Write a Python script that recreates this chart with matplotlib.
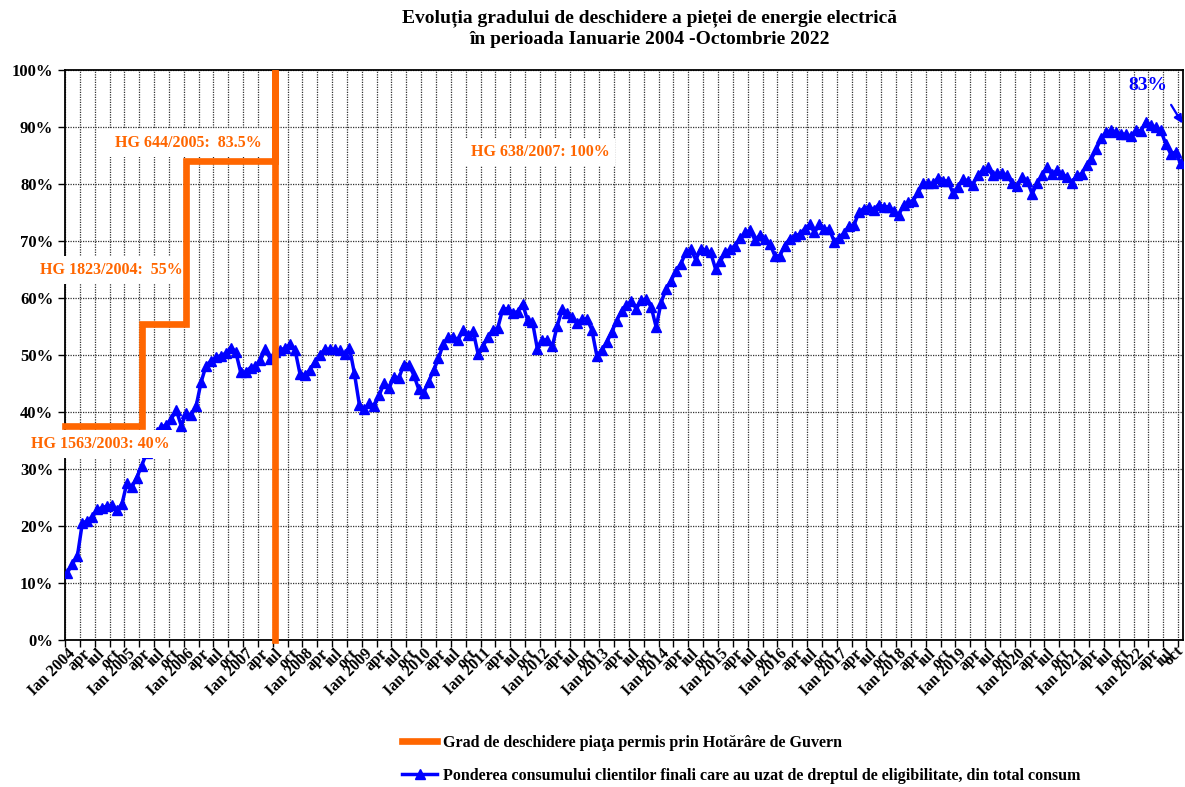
import matplotlib.pyplot as plt
import numpy as np
from matplotlib.lines import Line2D
from matplotlib.transforms import ScaledTranslation

plt.rcParams['font.family'] = ['Liberation Serif', 'DejaVu Serif']
plt.rcParams['font.weight'] = 'bold'

START_YEAR = 2004
MONTH_NAMES = {0: "Ian", 3: "apr", 6: "iul", 9: "oct"}

# Ponderea consumului clientilor eligibili in total consum (%), lunar, Ian 2004 - oct 2022
share = [
    11.8, 13.4, 14.7, 20.5, 20.9, 21.6, 22.9, 23.2, 23.5, 23.7, 22.8, 23.8,   # 2004
    27.5, 26.8, 28.5, 30.6, 32.8, 35.0, 36.5, 37.3, 37.8, 38.8, 40.3, 37.6,   # 2005
    39.8, 39.4, 41.0, 45.2, 48.1, 49.0, 49.6, 49.9, 50.3, 51.3, 50.6, 47.0,   # 2006
    47.0, 47.8, 48.1, 49.1, 51.0, 49.3, 50.5, 50.9, 51.2, 51.9, 50.9, 46.7,   # 2007
    46.5, 47.4, 48.8, 50.0, 51.0, 51.0, 51.0, 50.8, 50.1, 51.3, 46.8, 41.3,   # 2008
    40.5, 41.5, 41.1, 42.9, 45.1, 44.2, 46.2, 46.0, 48.3, 48.3, 46.5, 44.0,   # 2009
    43.4, 45.3, 47.3, 49.4, 52.0, 53.1, 53.1, 52.7, 54.4, 53.5, 54.2, 50.2,   # 2010
    51.5, 53.2, 54.4, 54.8, 58.1, 58.1, 57.4, 57.6, 59.0, 56.1, 55.8, 51.0,   # 2011
    52.6, 52.7, 51.5, 55.1, 58.0, 57.4, 56.6, 55.6, 56.3, 56.4, 54.4, 49.9,   # 2012
    50.8, 52.2, 54.0, 56.0, 57.7, 58.8, 59.4, 58.1, 59.6, 59.8, 58.4, 54.9,   # 2013
    59.2, 61.6, 63.0, 64.8, 66.0, 68.0, 68.6, 66.7, 68.6, 68.4, 68.0, 65.1,   # 2014
    66.5, 68.0, 68.6, 69.2, 70.5, 71.5, 71.9, 70.1, 71.1, 70.4, 69.5, 67.4,   # 2015
    67.4, 69.2, 70.4, 70.9, 71.2, 72.1, 72.9, 71.5, 72.9, 72.1, 72.1, 69.9,   # 2016
    70.6, 71.4, 72.7, 72.8, 75.1, 75.7, 76.0, 75.5, 76.4, 76.0, 76.0, 75.3,   # 2017
    74.5, 76.3, 76.8, 77.1, 78.6, 80.2, 80.1, 80.1, 81.1, 80.6, 80.5, 78.4,   # 2018
    79.5, 80.8, 80.6, 79.9, 81.5, 82.4, 82.9, 81.5, 81.9, 81.9, 81.5, 80.1,   # 2019
    79.6, 81.2, 80.5, 78.3, 80.1, 81.5, 82.9, 81.7, 82.4, 81.7, 81.3, 80.2,   # 2020
    81.5, 81.8, 83.3, 84.4, 86.2, 88.1, 89.1, 89.4, 89.1, 88.8, 88.7, 88.4,   # 2021
    89.4, 89.3, 90.9, 90.3, 90.0, 89.4, 87.1, 85.3, 85.6, 83.6,               # 2022
]

# Grad de deschidere permis prin HG: luna de la care se aplica si nivelul trasat (%)
hg_month = [0, 15, 24, 42]
hg_level = [37.5, 55.5, 84.0, 100.0]
hg_text = ["HG 1563/2003: 40%", "HG 1823/2004:  55%",
           "HG 644/2005:  83.5%", "HG 638/2007: 100%"]

ORANGE = '#FF6600'
BLUE = '#0000FF'

n = len(share)
months = np.arange(n)

# tick labels every 3 months
label_pos = list(range(0, n, 3))
label_txt = []
for m in label_pos:
    k = m % 12
    if k == 0:
        label_txt.append(f"{MONTH_NAMES[k]} {START_YEAR + m // 12}")
    else:
        label_txt.append(MONTH_NAMES[k])

fig = plt.figure(figsize=(11.85, 7.87), dpi=100)
ax = fig.add_axes([65 / 1185, 1 - 640 / 787, (1183 - 65) / 1185, 570 / 787])

# step line of the HG limits
sx = [-0.5]
sy = [hg_level[0]]
for i in range(1, len(hg_month)):
    if i < len(hg_month) - 1:
        sx += [hg_month[i], hg_month[i]]
        sy += [hg_level[i - 1], hg_level[i]]
    else:
        sx += [hg_month[i], hg_month[i], hg_month[i]]
        sy += [hg_level[i - 1], hg_level[i], 0]
ax.plot(sx, sy, color=ORANGE, lw=4.8, solid_joinstyle='miter', zorder=6, clip_on=False)

ax.plot(months, share, color=BLUE, lw=2.5, marker='^', markersize=7, zorder=3)

# labels with white boxes
box = dict(facecolor='white', edgecolor='none', pad=4)
ax.text(6.6, 34.4, hg_text[0], color=ORANGE, fontsize=11.5, ha='center', va='center',
        bbox=box, zorder=5, clip_on=False)
ax.text(8.8, 64.9, hg_text[1], color=ORANGE, fontsize=11.5, ha='center', va='center',
        bbox=box, zorder=5, clip_on=False)
ax.text(24.4, 87.2, hg_text[2], color=ORANGE, fontsize=11.5, ha='center', va='center',
        bbox=box, zorder=5)
ax.text(95.5, 85.6, hg_text[3], color=ORANGE, fontsize=11.5, ha='center', va='center',
        bbox=box, zorder=5)

ax.text(218.5, 97.3, "83%", color=BLUE, fontsize=14, ha='center', va='center')
ax.annotate('', xy=(225.7, 90.2), xytext=(222.8, 94.3), annotation_clip=False,
            arrowprops=dict(arrowstyle='-|>', color=BLUE, lw=1.6, mutation_scale=12))

ax.set_xlim(-0.5, n - 0.5)
ax.set_ylim(0, 100)
ax.set_yticks(np.arange(0, 101, 10))
ax.set_yticklabels([f"{v}%" for v in range(0, 101, 10)], fontsize=12)

ax.set_xticks(np.arange(-0.5, n, 3))
ax.set_xticklabels([])
ax.set_xticks(label_pos, minor=True)
ax.set_xticklabels(label_txt, minor=True, rotation=45, ha='right', va='top',
                   rotation_mode='anchor', fontsize=11.5)
ax.tick_params(axis='x', which='minor', length=0, pad=4)
ax.tick_params(axis='x', which='major', length=5, direction='out', width=1)
ax.tick_params(axis='y', length=5, width=1)
# keep the last "oct" inside the picture
last = ax.get_xticklabels(minor=True)[-1]
last.set_transform(last.get_transform() + ScaledTranslation(-0.05, 0.03, fig.dpi_scale_trans))

ax.grid(True, which='major', color='#333333', linestyle=(0, (1, 1)), lw=0.9)
ax.set_axisbelow(True)
for s in ax.spines.values():
    s.set_linewidth(1.3)
    s.set_color('black')

fig.suptitle("Evoluția gradului de deschidere a pieței de energie electrică\n"
             "în perioada Ianuarie 2004 -Octombrie 2022",
             x=650 / 1185, y=0.988, fontsize=14, fontweight='bold', linespacing=1.3)

handles = [Line2D([], [], color=ORANGE, lw=4.8),
           Line2D([], [], color=BLUE, lw=2.5, marker='^', markersize=7)]
labels = ["Grad de deschidere piaţa permis prin Hotărâre de Guvern",
          "Ponderea consumului clientilor finali care au uzat de dreptul de eligibilitate, din total consum"]
fig.legend(handles, labels, loc='upper left', bbox_to_anchor=(394 / 1185, 1 - 727 / 787),
           frameon=False, fontsize=11.5, handlelength=2.2, handletextpad=0.35,
           labelspacing=1.05, borderpad=0)

fig.savefig('out.png', dpi=100)
